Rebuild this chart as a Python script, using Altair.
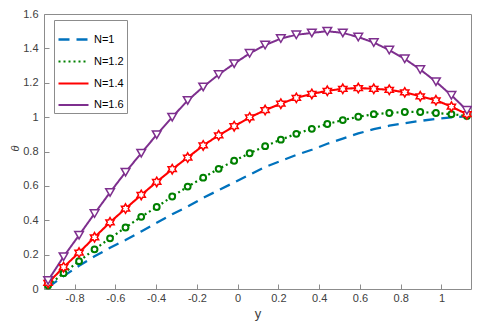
import altair as alt
import pandas as pd

# ---- data ----
y_pos = [-0.930, -0.854, -0.778, -0.702, -0.626, -0.550, -0.473, -0.397,
         -0.321, -0.245, -0.169, -0.093, -0.017, 0.059, 0.135, 0.212,
         0.288, 0.364, 0.440, 0.516, 0.592, 0.668, 0.744, 0.820,
         0.896, 0.973, 1.049, 1.125]

theta_n1 = [0.010, 0.075, 0.135, 0.190, 0.240, 0.285, 0.335, 0.385,
            0.435, 0.480, 0.530, 0.575, 0.620, 0.665, 0.710, 0.745,
            0.780, 0.810, 0.845, 0.875, 0.905, 0.930, 0.950, 0.965,
            0.978, 0.990, 0.998, 1.005]

theta_n12 = [0.020, 0.092, 0.162, 0.231, 0.295, 0.358, 0.420, 0.477,
             0.538, 0.596, 0.648, 0.699, 0.746, 0.790, 0.831, 0.869,
             0.903, 0.932, 0.960, 0.983, 1.002, 1.017, 1.024, 1.030,
             1.030, 1.024, 1.017, 1.007]

theta_n14 = [0.035, 0.127, 0.212, 0.301, 0.388, 0.468, 0.547, 0.623,
             0.697, 0.765, 0.835, 0.894, 0.947, 0.998, 1.041, 1.078,
             1.112, 1.135, 1.153, 1.165, 1.169, 1.165, 1.159, 1.144,
             1.121, 1.098, 1.061, 1.017]

theta_n16 = [0.050, 0.188, 0.313, 0.439, 0.562, 0.680, 0.790, 0.898,
             1.000, 1.097, 1.176, 1.248, 1.311, 1.371, 1.419, 1.457,
             1.479, 1.490, 1.500, 1.490, 1.466, 1.434, 1.390, 1.339,
             1.277, 1.206, 1.127, 1.040]

series = ["N=1", "N=1.2", "N=1.4", "N=1.6"]
colors = ["#0072BD", "#008000", "#FF0000", "#7E2F8E"]
x_ticks = [-0.8, -0.6, -0.4, -0.2, 0, 0.2, 0.4, 0.6, 0.8, 1]
y_ticks = [0, 0.2, 0.4, 0.6, 0.8, 1, 1.2, 1.4, 1.6]

rows = []
for name, vals in zip(series, [theta_n1, theta_n12, theta_n14, theta_n16]):
    for xv, tv in zip(y_pos, vals):
        rows.append({"y": xv, "theta": tv, "N": name})
df = pd.DataFrame(rows)

FONT = "Liberation Sans"
AX_COLOR = "#8c8c8c"
LAB_COLOR = "#404040"

HEX_PTS = [(0, -1), (0.289, -0.5), (0.866, -0.5), (0.577, 0), (0.866, 0.5),
           (0.289, 0.5), (0, 1), (-0.289, 0.5), (-0.866, 0.5), (-0.577, 0),
           (-0.866, -0.5), (-0.289, -0.5)]
HEX = "M" + "L".join(f"{px:.3f},{py:.3f}" for px, py in HEX_PTS) + "Z"

xs = alt.Scale(domain=[-0.95, 1.145], nice=False, zero=False)
ys = alt.Scale(domain=[0, 1.6], nice=False, zero=False)
col = alt.Scale(domain=series, range=colors)
dash = alt.Scale(domain=series, range=[[11, 7], [2, 3], [1, 0], [1, 0]])

x_axis = alt.Axis(values=x_ticks, title="y", labelPadding=3,
                  titleBaseline="middle", titleY=29, titleFontSize=13)
y_axis = alt.Axis(values=y_ticks, title="θ", labelPadding=6,
                  titleBaseline="middle", titleX=-34, titleY=134, titleAngle=-90,
                  titleFontSize=11, titleFontStyle="italic")

leg = alt.Legend(title=None, orient="none", legendX=10, legendY=6,
                 symbolType="stroke", symbolSize=900, symbolStrokeWidth=2,
                 labelFontSize=11, labelColor="#000000", labelOffset=4,
                 rowPadding=-6, padding=3, strokeColor=AX_COLOR, fillColor="white")

base = alt.Chart(df).encode(
    x=alt.X("y:Q", scale=xs, axis=x_axis),
    y=alt.Y("theta:Q", scale=ys, axis=y_axis),
)

lines = base.mark_line().encode(
    color=alt.Color("N:N", scale=col, legend=leg),
    strokeDash=alt.StrokeDash("N:N", scale=dash, legend=leg),
    strokeWidth=alt.StrokeWidth("N:N", scale=alt.Scale(domain=series, range=[2.3, 2.0, 1.5, 2.0]), legend=None),
)

marker_styles = {
    "N=1.2": dict(shape="circle", size=34, strokeWidth=2.0, color="#008000"),
    "N=1.4": dict(shape=HEX, size=90, strokeWidth=1.5, color="#FF0000"),
    "N=1.6": dict(shape="triangle-down", size=75, strokeWidth=1.5, color="#7E2F8E"),
}
marker_layers = []
for name, st in marker_styles.items():
    marker_layers.append(
        base.transform_filter(alt.datum.N == name).mark_point(
            shape=st["shape"], size=st["size"], strokeWidth=st["strokeWidth"],
            stroke=st["color"], fill="white", filled=True, opacity=1
        )
    )

chart = alt.layer(lines, *marker_layers).properties(
    width=427, height=275,
    padding={"left": 36, "top": 6, "right": 1, "bottom": 33},
    autosize=alt.AutoSizeParams(type="none"),
).configure_view(
    stroke=AX_COLOR, strokeWidth=1
).configure_axis(
    grid=False, domain=False, offset=-5, tickSize=5, tickColor=AX_COLOR,
    labelFont=FONT, labelFontSize=11, labelColor=LAB_COLOR,
    labelExpr="'' + datum.value",
    titleFont=FONT, titleColor=LAB_COLOR, titleFontWeight="normal",
).configure_legend(
    labelFont=FONT
)

chart.save("out.html", embed_options={"renderer": "svg", "actions": False})
